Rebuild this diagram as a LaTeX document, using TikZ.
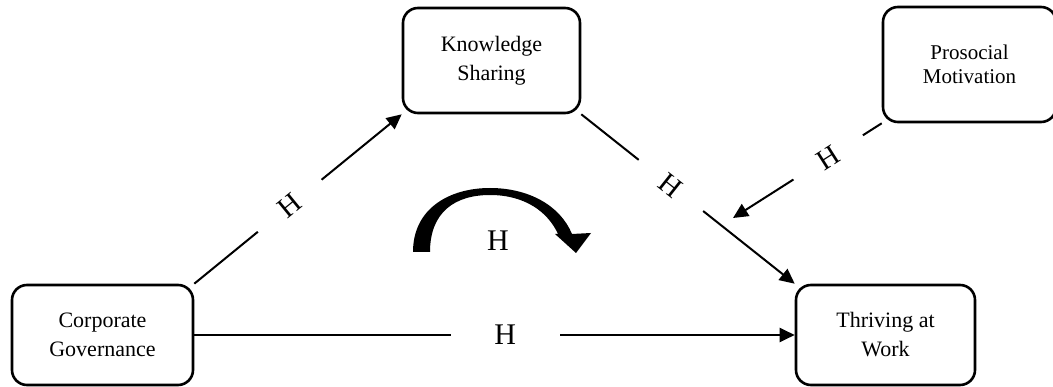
\documentclass[tikz,border=0pt]{standalone}
\usepackage{fontspec}
\setmainfont{Liberation Serif}
\usetikzlibrary{arrows.meta}

\begin{document}
\begin{tikzpicture}[x=1pt, y=-1pt,
    box/.style = {draw, rounded corners=15pt, line width=2.6pt, align=center, inner sep=0pt,
      font=\fontsize{22}{29}\selectfont},
    link/.style = {line width=2pt, -{Triangle[length=15pt, width=14pt]}},
    tag/.style = {fill=white, sloped, inner sep=0pt, minimum width=82pt,
      font=\fontsize{29}{34}\selectfont},
    bigtag/.style = {inner sep=0pt, font=\fontsize{30}{34}\selectfont}]
    \useasboundingbox (0,0) rectangle (1053,387);
    \node[box, minimum width=177pt, minimum height=105pt] (know) at (491.5,60.5) {Knowledge\\Sharing};
    \node[box, minimum width=173pt, minimum height=115pt, font=\fontsize{21}{24}\selectfont] (proso) at (969.5,64.5) {Prosocial\\Motivation};
    \node[box, minimum width=181pt, minimum height=100pt] (corp) at (102.5,335) {Corporate\\Governance};
    \node[box, minimum width=179pt, minimum height=100pt] (thrive) at (885.5,335) {Thriving at\\Work};
    \coordinate (moder) at (733,218);
    \draw[link] (corp.north east) -- node[tag, pos=0.46] {H} (know.south west);
    \draw[link] (know.south east) -- node[tag, pos=0.42] {H} (thrive.north west);
    \draw[link] (proso.south west) -- node[tag, pos=0.36] {H} (moder);
    \draw[link] (corp.east) -- node[bigtag, fill=white, minimum width=109pt, pos=0.518] {H} (thrive.west);
    \fill (413,252) .. controls (413,208) and (450,188) .. (490,188)
      .. controls (528,188) and (560,205) .. (572,234) -- (591,233) -- (576,253) -- (555,234)
      -- (558,234) .. controls (548,212) and (525,195) .. (490,195)
      .. controls (455,195) and (430,212) .. (430,252) -- cycle;
    \node[bigtag] (turn) at (498,240.5) {H};
\end{tikzpicture}
\end{document}
